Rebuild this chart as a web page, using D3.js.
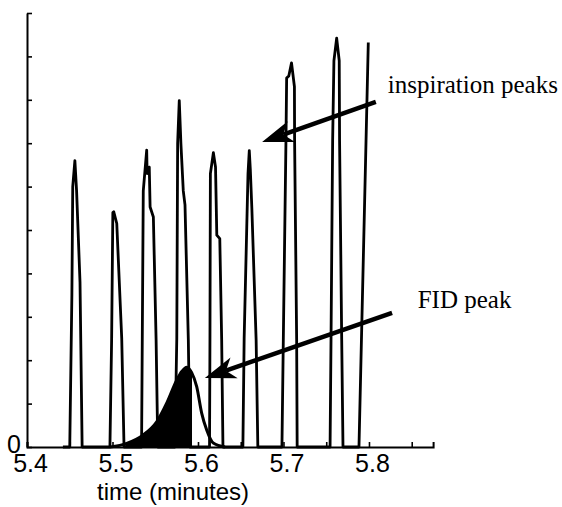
<!DOCTYPE html>
<html>
<head>
<meta charset="utf-8">
<script src="https://cdn.jsdelivr.net/npm/d3@7"></script>
<style>
body { margin: 0; background: #fff; }
svg { display: block; }
</style>
</head>
<body>
<svg width="562" height="507"></svg>
<script>
// inspiration trace (time in minutes, signal in axis units)
const insTime = [5.442,
    5.4500, 5.4525, 5.4535, 5.4560, 5.4580, 5.4620, 5.4645,
    5.4970, 5.4990, 5.5004, 5.5015, 5.5050, 5.5108, 5.5135,
    5.5340, 5.5360, 5.5400, 5.5405, 5.5430, 5.5440, 5.5478, 5.5510, 5.5530,
    5.5730, 5.5752, 5.5762, 5.5781, 5.5800, 5.5828, 5.5848, 5.5887, 5.5905,
    5.6135, 5.6140, 5.6145, 5.6180, 5.6205, 5.6220, 5.6255, 5.6277, 5.6292,
    5.6525, 5.6540, 5.6585, 5.6600, 5.6612, 5.6630, 5.6680, 5.6700,
    5.6982, 5.6998, 5.7029, 5.7037, 5.7062, 5.7094, 5.7128, 5.7130, 5.7154, 5.7160,
    5.7545, 5.7556, 5.7575, 5.7590, 5.7622, 5.7652, 5.7656, 5.7681, 5.7696,
    5.7883, 5.7992];
const insSignal = [0,
    0, 3.5, 6.0, 6.6, 5.9, 3.8, 0,
    0, 2.5, 5.4, 5.42, 5.15, 2.5, 0,
    0, 5.9, 6.84, 6.3, 6.45, 5.53, 5.3, 2.47, 0,
    0, 2.5, 7.0, 7.98, 7.0, 5.9, 5.58, 2.47, 0,
    0, 2.5, 6.3, 6.78, 6.45, 4.88, 4.8, 2.47, 0,
    0, 2.5, 6.3, 6.83, 6.4, 5.5, 2.47, 0,
    0, 2.47, 7.07, 8.5, 8.55, 8.85, 8.3, 7.07, 2.47, 0,
    0, 2.47, 7.07, 8.9, 9.42, 8.9, 7.07, 2.47, 0,
    0, 9.32];

// FID trace
const fidTime = [5.4971, 5.5166, 5.5360, 5.5517, 5.5634, 5.5751, 5.5810, 5.5868, 5.5925, 5.5985, 5.6043, 5.6102, 5.6179, 5.6316];
const fidSignal = [0, 0.085, 0.28, 0.58, 1.01, 1.54, 1.74, 1.84, 1.72, 1.39, 0.78, 0.39, 0.09, 0];
const fidFill = [5.515, 5.593];

const xTicks = [5.4, 5.45, 5.5, 5.55, 5.6, 5.65, 5.7, 5.75, 5.8, 5.85];
const xTickLabels = ["5.4", "5.5", "5.6", "5.7", "5.8"];
const yTicks = [0, 1, 2, 3, 4, 5, 6, 7, 8, 9, 10];

const notes = ["inspiration peaks", "FID peak"];
const notePos = [[5.822, 8.16], [5.857, 3.2]];
const arrowFrom = [[5.808, 7.95], [5.827, 3.09]];
const arrowTo = [[5.675, 7.03], [5.608, 1.59]];

const svg = d3.select("svg");

const x = d3.scaleLinear().domain([5.4, 5.875]).range([27, 433.1]);
const y = d3.scaleLinear().domain([0, 10]).range([447, 13]);

// FID fill (clipped area under curve)
const fid = fidTime.map((t, i) => [t, fidSignal[i]]);

svg.append("clipPath").attr("id", "fidclip")
    .append("rect")
    .attr("x", x(fidFill[0]))
    .attr("y", 0)
    .attr("width", x(fidFill[1]) - x(fidFill[0]))
    .attr("height", 507);

svg.append("path")
    .datum(fid)
    .attr("clip-path", "url(#fidclip)")
    .attr("fill", "#000")
    .attr("d", d3.area().x(d => x(d[0])).y0(y(0)).y1(d => y(d[1])).curve(d3.curveMonotoneX));

svg.append("path")
    .datum(fid)
    .attr("fill", "none")
    .attr("stroke", "#000")
    .attr("stroke-width", 3)
    .attr("d", d3.line().x(d => x(d[0])).y(d => y(d[1])).curve(d3.curveMonotoneX));

// axes
const xAxis = svg.append("g")
    .attr("transform", `translate(0,${y(0)})`)
    .call(d3.axisBottom(x).tickValues(xTicks).tickSize(-5).tickSizeOuter(-5)
        .tickFormat(d => {
            const s = d3.format(".1f")(d);
            return xTickLabels.includes(s) && Math.abs(d * 10 - Math.round(d * 10)) < 1e-6 ? s : "";
        }));
xAxis.select(".domain").attr("stroke-width", 2);
xAxis.selectAll(".tick line").attr("stroke-width", 1.6);
xAxis.selectAll("text")
    .attr("dx", 3)
    .attr("y", 7)
    .style("font-family", "'Liberation Sans', Arial, sans-serif")
    .style("font-size", "25px")
    .attr("fill", "#000");

const yAxis = svg.append("g")
    .attr("transform", `translate(${x(5.4)},0)`)
    .call(d3.axisLeft(y).tickValues(yTicks).tickSize(-5).tickSizeOuter(0)
        .tickFormat(d => d === 0 ? "0" : ""));
yAxis.select(".domain").attr("stroke-width", 2);
yAxis.selectAll(".tick line").attr("stroke-width", 1.6);
yAxis.selectAll("text")
    .attr("x", -6)
    .attr("dy", "0.2em")
    .style("font-family", "'Liberation Sans', Arial, sans-serif")
    .style("font-size", "25px")
    .attr("fill", "#000");

// inspiration trace
const ins = insTime.map((t, i) => [t, insSignal[i]]);
svg.append("path")
    .datum(ins)
    .attr("fill", "none")
    .attr("stroke", "#000")
    .attr("stroke-width", 2.8)
    .attr("stroke-linejoin", "round")
    .attr("d", d3.line().x(d => x(d[0])).y(d => y(d[1])));

// axis title
svg.append("text")
    .attr("x", 97)
    .attr("y", 500)
    .style("font-family", "'Liberation Sans', Arial, sans-serif")
    .style("font-size", "24px")
    .text("time (minutes)");

// annotations
notes.forEach((t, i) => {
    svg.append("text")
        .attr("x", x(notePos[i][0]))
        .attr("y", y(notePos[i][1]))
        .style("font-family", "'Liberation Serif', 'Times New Roman', serif")
        .style("font-size", "25px")
        .text(t);

    const x0 = x(arrowFrom[i][0]), y0 = y(arrowFrom[i][1]);
    const x1 = x(arrowTo[i][0]), y1 = y(arrowTo[i][1]);
    const len = Math.hypot(x1 - x0, y1 - y0);
    const ux = (x1 - x0) / len, uy = (y1 - y0) / len;
    const px = -uy, py = ux;
    const head = 31, half = 11;
    const bx = x1 - ux * head, by = y1 - uy * head;
    const nx = x1 - ux * head * 0.72, ny = y1 - uy * head * 0.72;

    svg.append("line")
        .attr("x1", x0).attr("y1", y0)
        .attr("x2", nx).attr("y2", ny)
        .attr("stroke", "#000")
        .attr("stroke-width", 4.5);

    svg.append("path")
        .attr("fill", "#000")
        .attr("d", `M${x1},${y1}L${bx + px * half},${by + py * half}L${nx},${ny}L${bx - px * half},${by - py * half}Z`);
});
</script>
</body>
</html>
